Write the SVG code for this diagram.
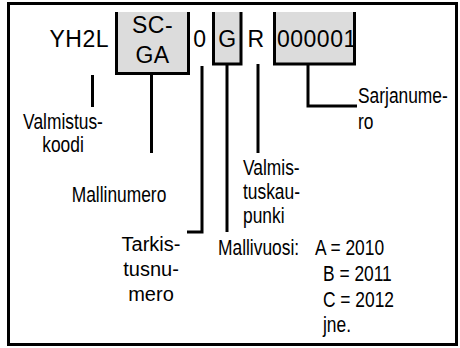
<svg xmlns="http://www.w3.org/2000/svg" width="460" height="348" viewBox="0 0 460 348">
<style>
.frame{fill:none;stroke:#000;stroke-width:3}
.box{fill:#dcdcdc;stroke:none}
.border{fill:none;stroke:#000;stroke-width:3;stroke-linejoin:miter;stroke-linecap:butt}
.conn{fill:none;stroke:#000;stroke-width:3;stroke-linejoin:miter;stroke-linecap:butt}
.code{font-family:"Liberation Sans",Arial,sans-serif;font-size:23px;letter-spacing:0.5px;fill:#000}
.lbl{font-family:"Liberation Sans",Arial,sans-serif;font-size:22px;fill:#000}
.lbl2{font-family:"Liberation Sans",Arial,sans-serif;font-size:20px;fill:#000}
</style>
<rect class="frame" x="8.5" y="3.5" width="448" height="341"/>

<g id="code-YH2L">
<text class="code" x="49.5" y="47">YH2L</text>
</g>
<g id="code-SCGA">
<rect class="box" x="117" y="12" width="71" height="61"/>
<path class="border" d="M116.5,12 V73.5 H188.5 V12"/>
<text class="code" x="152.5" y="33" text-anchor="middle">SC-</text>
<text class="code" x="152.5" y="63" text-anchor="middle">GA</text>
</g>
<g id="code-0">
<text class="code" x="200" y="47" text-anchor="middle">0</text>
</g>
<g id="code-G">
<rect class="box" x="214" y="12" width="27" height="52"/>
<path class="border" d="M213.5,12 V64 H241 V12"/>
<text class="code" x="227.5" y="47" text-anchor="middle">G</text>
</g>
<g id="code-R">
<text class="code" x="256" y="47" text-anchor="middle">R</text>
</g>
<g id="code-serial">
<rect class="box" x="275" y="12" width="80" height="52"/>
<path class="border" d="M274.5,12 V64 H354.5 V12"/>
<text class="code" x="277" y="47">000001</text>
</g>

<g id="connectors">
<path class="conn" d="M92.5,75 V107"/>
<path class="conn" d="M151.5,75 V153"/>
<path class="conn" d="M202,66 V232 H187"/>
<path class="conn" d="M227,64 V232"/>
<path class="conn" d="M258,64 V153"/>
<path class="conn" d="M308,64 V106 H357"/>
</g>

<g id="lbl-valmistuskoodi">
<text class="lbl" transform="translate(63,129) scale(0.79,1)" text-anchor="middle">Valmistus-</text>
<text class="lbl" transform="translate(63,152) scale(0.79,1)" text-anchor="middle">koodi</text>
</g>
<g id="lbl-mallinumero">
<text class="lbl" transform="translate(119,202) scale(0.79,1)" text-anchor="middle">Mallinumero</text>
</g>
<g id="lbl-tarkistusnumero">
<text class="lbl2" x="151" y="251" text-anchor="middle">Tarkis-</text>
<text class="lbl2" x="151" y="276" text-anchor="middle">tusnu-</text>
<text class="lbl2" x="151" y="301" text-anchor="middle">mero</text>
</g>
<g id="lbl-valmistuskaupunki">
<text class="lbl" transform="translate(243,175) scale(0.79,1)">Valmis-</text>
<text class="lbl" transform="translate(243,199) scale(0.79,1)">tuskau-</text>
<text class="lbl" transform="translate(243,223) scale(0.79,1)">punki</text>
</g>
<g id="lbl-sarjanumero">
<text class="lbl" transform="translate(358,103) scale(0.79,1)">Sarjanume-</text>
<text class="lbl" transform="translate(358,129) scale(0.79,1)">ro</text>
</g>
<g id="lbl-mallivuosi">
<text class="lbl" transform="translate(218,255) scale(0.79,1)">Mallivuosi:</text>
<text class="lbl" transform="translate(315,255) scale(0.79,1)">A = 2010</text>
<text class="lbl" transform="translate(323,281) scale(0.79,1)">B = 2011</text>
<text class="lbl" transform="translate(323,307) scale(0.79,1)">C = 2012</text>
<text class="lbl" transform="translate(323,332) scale(0.79,1)">jne.</text>
</g>
</svg>
